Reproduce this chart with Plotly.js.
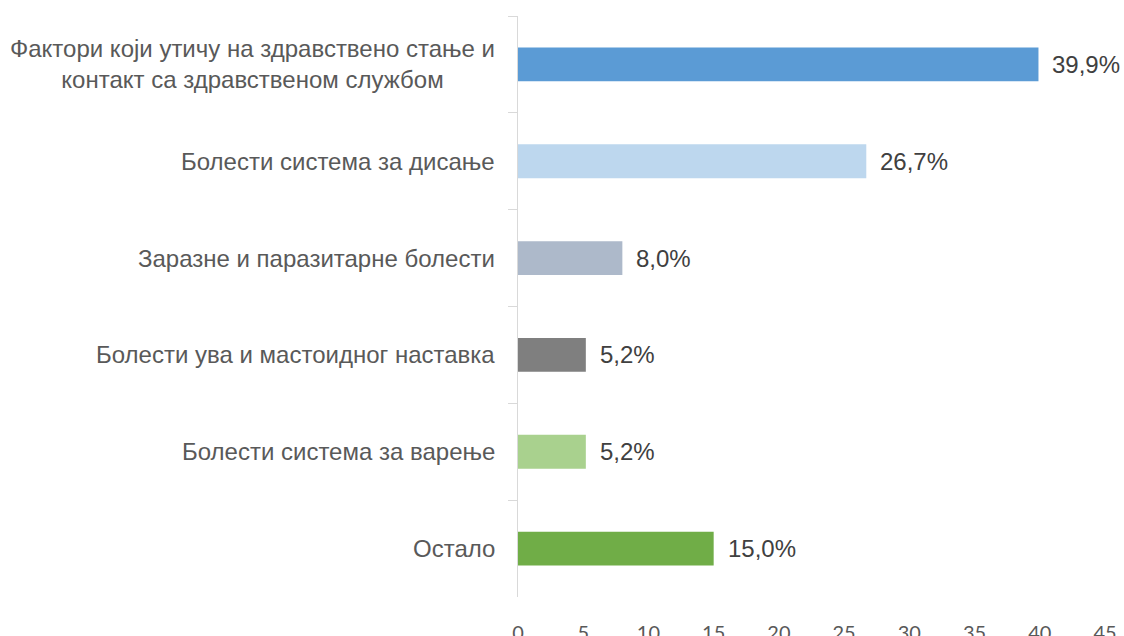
<!DOCTYPE html>
<html>
<head>
<meta charset="utf-8">
<script src="https://cdn.plot.ly/plotly-3.0.1.min.js"></script>
<style>
  html, body { margin: 0; padding: 0; background: #fff; }
  #plotArea { width: 1124px; height: 636px; }
</style>
</head>
<body>
<div id="plotArea"></div>
<script>
// categories listed top to bottom
var categories = [
    "Фактори који утичу на здравствено стање и<br>контакт са здравственом службом",
    "Болести система за дисање",
    "Заразне и паразитарне болести",
    "Болести ува и мастоидног наставка",
    "Болести система за варење",
    "Остало"
];
var values = [39.9, 26.7, 8.0, 5.2, 5.2, 15.0];
var valueLabels = ["39,9%", "26,7%", "8,0%", "5,2%", "5,2%", "15,0%"];
var barColors = ["#5b9bd5", "#bdd7ee", "#adb9ca", "#7f7f7f", "#a9d18e", "#70ad47"];
var xTicks = [0, 5, 10, 15, 20, 25, 30, 35, 40, 45];

var arial = "Liberation Sans, Arial, sans-serif";

var trace = {
    type: "bar",
    orientation: "h",
    x: values,
    y: categories,
    marker: {color: barColors},
    width: 0.35,
    hoverinfo: "none"
};

// value labels to the right of each bar
var labelNotes = values.map(function(v, i) {
    return {
        x: v, y: categories[i], xref: "x", yref: "y",
        text: valueLabels[i],
        showarrow: false,
        xanchor: "left", yanchor: "middle",
        xshift: 12,
        font: {family: arial, size: 24, color: "#404040"}
    };
});

// category names, centred lines like the original
var catNotes = categories.map(function(c) {
    return {
        x: 0, y: c, xref: "paper", yref: "y",
        text: c,
        showarrow: false,
        xanchor: "right", yanchor: "middle",
        align: "center",
        xshift: -21,
        font: {family: arial, size: 24, color: "#595959"}
    };
});

var layout = {
    width: 1124,
    height: 636,
    margin: {l: 518, r: 19, t: 16, b: 39},
    paper_bgcolor: "#ffffff",
    plot_bgcolor: "#ffffff",
    showlegend: false,
    xaxis: {
        range: [0, 45],
        tickvals: xTicks,
        showgrid: false,
        zeroline: false,
        showline: false,
        ticks: "",
        ticklabelstandoff: 22,
        tickfont: {family: "Lato, sans-serif", size: 20, color: "#595959"},
        fixedrange: true
    },
    yaxis: {
        autorange: "reversed",
        showgrid: false,
        zeroline: false,
        showline: true,
        linecolor: "#d9d9d9",
        linewidth: 1,
        ticks: "outside",
        tickson: "boundaries",
        ticklen: 9,
        tickcolor: "#d9d9d9",
        showticklabels: false,
        fixedrange: true
    },
    annotations: labelNotes.concat(catNotes)
};

Plotly.newPlot("plotArea", [trace], layout, {displayModeBar: false, staticPlot: true});
</script>
</body>
</html>
